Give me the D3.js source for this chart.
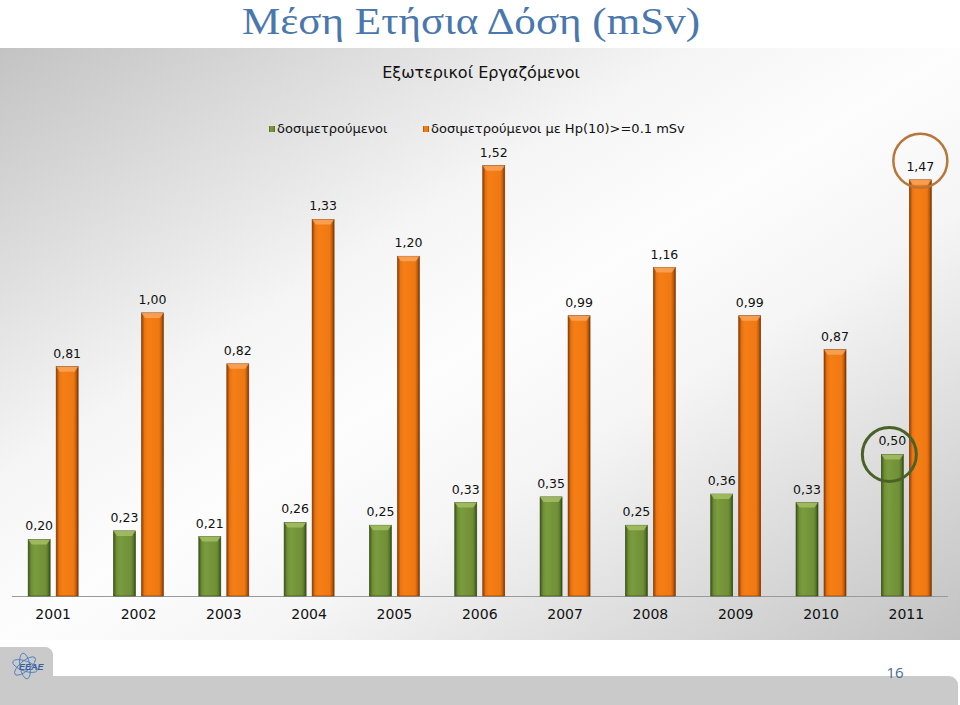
<!DOCTYPE html>
<html><head><meta charset="utf-8">
<script src="https://cdn.jsdelivr.net/npm/d3@7"></script>
<style>html,body{margin:0;padding:0;background:#fff;}svg{display:block;}</style>
</head><body>
<script>
const years = ["2001","2002","2003","2004","2005","2006","2007","2008","2009","2010","2011"];
const greenValues = [0.20,0.23,0.21,0.26,0.25,0.33,0.35,0.25,0.36,0.33,0.50];
const orangeValues = [0.81,1.00,0.82,1.33,1.20,1.52,0.99,1.16,0.99,0.87,1.47];
const seriesNames = ["δοσιμετρούμενοι","δοσιμετρούμενοι με Hp(10)>=0.1 mSv"];
const titleText = "Μέση Ετήσια Δόση (mSv)";
const subtitleText = "Εξωτερικοί Εργαζόμενοι";
const pageNumber = "16";

const W = 960, H = 705;
const svg = d3.select("body").append("svg").attr("width", W).attr("height", H);
const defs = svg.append("defs");

// panel gradient
const pg = defs.append("linearGradient").attr("id","panel").attr("x1",0).attr("y1",0).attr("x2",1).attr("y2",1);
[[0,"#c3c3c3"],[0.36,"#f5f5f5"],[0.5,"#fdfdfd"],[0.64,"#f5f5f5"],[1,"#c2c2c2"]].forEach(s=>pg.append("stop").attr("offset",s[0]).attr("stop-color",s[1]));

function barGrad(id, stops){
  const g = defs.append("linearGradient").attr("id",id).attr("x1",0).attr("y1",0).attr("x2",1).attr("y2",0);
  stops.forEach(s=>g.append("stop").attr("offset",s[0]).attr("stop-color",s[1]));
}
barGrad("gGreen",[[0,"#3e561a"],[0.14,"#6f8f35"],[0.3,"#7a9b3e"],[0.8,"#718f37"],[0.9,"#5b7a28"],[1,"#334914"]]);
barGrad("gOrange",[[0,"#8a3f06"],[0.14,"#ec7410"],[0.3,"#f57e16"],[0.8,"#ef7812"],[0.9,"#c65e0a"],[1,"#7a3604"]]);

// page background panel
svg.append("rect").attr("x",0).attr("y",48).attr("width",W).attr("height",592).attr("fill","url(#panel)");

// bottom band & logo tab
svg.append("rect").attr("x",-10).attr("y",676).attr("width",968).attr("height",40).attr("rx",9).attr("fill","#cacaca");
svg.append("rect").attr("x",-10).attr("y",647).attr("width",63).attr("height",70).attr("rx",8).attr("fill","#cacaca");
const logo = svg.append("g").attr("transform","translate(25,666)");
[0,60,120].forEach(a=>logo.append("ellipse").attr("rx",13).attr("ry",5).attr("fill","none").attr("stroke","#4d7fc0").attr("stroke-width",0.9).attr("transform",`rotate(${a+20})`));
logo.append("text").attr("x",-6).attr("y",4).attr("font-family","Liberation Sans, Arial, sans-serif").attr("font-style","italic").attr("font-weight","bold").attr("font-size",9).attr("fill","#3a5f9a").text("ΕΕΑΕ");
svg.append("text").attr("x",895).attr("y",678).attr("text-anchor","middle").attr("font-family","Open Sans, Liberation Sans, sans-serif").attr("font-size",15).attr("fill","#4a6a96").text(pageNumber);

// title
svg.append("text").attr("x",471).attr("y",34).attr("text-anchor","middle")
  .attr("font-family","Liberation Serif, DejaVu Serif, serif").attr("font-size",38).attr("fill","#4a78ac")
  .attr("textLength",458).attr("lengthAdjust","spacingAndGlyphs").text(titleText);
svg.append("text").attr("x",481).attr("y",78).attr("text-anchor","middle")
  .attr("font-family","DejaVu Sans, Verdana, sans-serif").attr("font-size",16).attr("fill","#111").text(subtitleText);

// legend
const legend = svg.append("g").attr("font-family","DejaVu Sans, Verdana, sans-serif").attr("font-size",13).attr("fill","#111");
const legItems = [{x:269, fill:"url(#gGreen)", name:seriesNames[0]},{x:423, fill:"url(#gOrange)", name:seriesNames[1]}];
legItems.forEach(it=>{
  legend.append("rect").attr("x",it.x).attr("y",126).attr("width",6).attr("height",6).attr("fill",it.fill);
  legend.append("text").attr("x",it.x+8).attr("y",133).text(it.name);
});

// scales
const x = d3.scaleBand().domain(years).range([10.5, 949]).paddingInner(0).paddingOuter(0);
const y = d3.scaleLinear().domain([0,1.6]).range([596, 143]);
const barW = 22, gap = 6;
const data = years.map((yr,i)=>({year:yr, g:greenValues[i], o:orangeValues[i]}));

// axis line
svg.append("line").attr("x1",12).attr("x2",948).attr("y1",y(0)+0.5).attr("y2",y(0)+0.5).attr("stroke","#9a9a9a").attr("stroke-width",1);

// x axis labels
const xAxis = d3.axisBottom(x).tickSize(0).tickPadding(0);
const ax = svg.append("g").attr("transform",`translate(0,${y(0)})`).call(xAxis);
ax.select(".domain").remove();
ax.selectAll("text").attr("font-family","DejaVu Sans, Verdana, sans-serif").attr("font-size",14).attr("fill","#111").attr("dy",0).attr("y",23);

function drawBars(key, grad, cap, edge, offset){
  const g = svg.append("g");
  data.forEach(d=>{
    const cx = x(d.year) + x.bandwidth()/2 + offset;
    const x0 = cx - barW/2, x1 = cx + barW/2, yt = y(d[key]), yb = y(0);
    g.append("rect").attr("x",x0).attr("y",yt).attr("width",barW).attr("height",yb-yt).attr("fill",grad).attr("stroke",edge).attr("stroke-width",0.6);
    g.append("polygon").attr("points",`${x0},${yt} ${x1},${yt} ${x1-3.5},${yt+5} ${x0+3.5},${yt+5}`).attr("fill",cap).attr("opacity",0.85);
    g.append("text").attr("x",cx).attr("y",yt-9).attr("text-anchor","middle")
      .attr("font-family","DejaVu Sans, Verdana, sans-serif").attr("font-size",12.5).attr("fill","#111")
      .text(d3.format(".2f")(d[key]).replace(".",","));
  });
}
const off = (barW+gap)/2;
drawBars("g","url(#gGreen)","#a4c063","#33461a",-off);
drawBars("o","url(#gOrange)","#f9a55a","#7a3604",off);

// highlight circles on 2011
const last = data[data.length-1];
const cxL = x(last.year) + x.bandwidth()/2;
svg.append("circle").attr("cx",cxL+off).attr("cy",y(last.o)-19).attr("r",27).attr("fill","none").attr("stroke","#b8763a").attr("stroke-width",2.5);
svg.append("circle").attr("cx",cxL-off-3).attr("cy",y(last.g)).attr("r",27).attr("fill","none").attr("stroke","#4a6226").attr("stroke-width",3);
</script>
</body></html>
